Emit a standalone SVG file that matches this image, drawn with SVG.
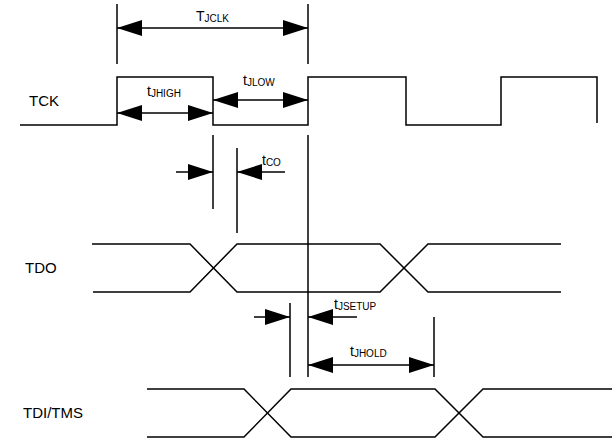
<svg xmlns="http://www.w3.org/2000/svg" width="612" height="440" viewBox="0 0 612 440">
<style>
.w{fill:none;stroke:#000;stroke-width:1.5;stroke-linejoin:miter}
.l{fill:none;stroke:#000;stroke-width:1.5}
.a{fill:none;stroke:#000;stroke-width:1.5;marker-end:url(#ah)}
.d{fill:none;stroke:#000;stroke-width:1.5;marker-start:url(#ah);marker-end:url(#ah)}
.sig{font-family:"Liberation Sans",Arial,sans-serif;font-size:15px;fill:#000}
.lab{font-family:"Liberation Sans",Arial,sans-serif;font-size:14px;fill:#000}
.sub{font-size:10px}
</style>
<defs>
<marker id="ah" viewBox="0 0 25 16" refX="25" refY="8" markerWidth="25" markerHeight="16" markerUnits="userSpaceOnUse" orient="auto-start-reverse">
<path d="M0,0 L25,8 L0,16 Z" fill="#000"/>
</marker>
</defs>
<rect width="612" height="440" fill="#fff"/>
<g id="TCK">
<text class="sig" x="29" y="106">TCK</text>
<path class="w" d="M20,125 H117 V77 H213 V125 H308 V77 H406 V125 H501 V77 H597 V123"/>
</g>
<g id="TDO">
<text class="sig" x="25" y="273">TDO</text>
<path class="w" d="M92,244 H190 L237,292 H380 L428,244 H561"/>
<path class="w" d="M93,292 H190 L237,244 H380 L428,292 H561"/>
</g>
<g id="TDI_TMS">
<text class="sig" x="23" y="418">TDI/TMS</text>
<path class="w" d="M147,389 H244 L291,437 H435 L483,389 H612"/>
<path class="w" d="M147,437 H244 L291,389 H435 L483,437 H612"/>
</g>
<g id="connectors">
<line class="l" x1="117" y1="4" x2="117" y2="64"/>
<line class="l" x1="308" y1="4" x2="308" y2="64"/>
<line class="d" x1="117" y1="28" x2="308" y2="28"/>
<line class="d" x1="117" y1="113" x2="213" y2="113"/>
<line class="d" x1="213" y1="100" x2="308" y2="100"/>
<line class="l" x1="213" y1="135" x2="213" y2="209"/>
<line class="l" x1="237" y1="148" x2="237" y2="233"/>
<line class="l" x1="308" y1="135" x2="308" y2="377"/>
<line class="a" x1="176" y1="172" x2="213" y2="172"/>
<line class="a" x1="285" y1="172" x2="237" y2="172"/>
<line class="l" x1="290" y1="303" x2="290" y2="377"/>
<line class="a" x1="254" y1="317" x2="290" y2="317"/>
<line class="a" x1="357" y1="317" x2="308" y2="317"/>
<line class="l" x1="434" y1="317" x2="434" y2="377"/>
<line class="d" x1="308" y1="365" x2="434" y2="365"/>
</g>
<g id="labels">
<text class="lab" x="196" y="21">T<tspan class="sub" dy="1">JCLK</tspan></text>
<text class="lab" x="147" y="96">t<tspan class="sub" dy="1">JHIGH</tspan></text>
<text class="lab" x="243" y="85">t<tspan class="sub" dy="1">JLOW</tspan></text>
<text class="lab" x="262" y="165">t<tspan class="sub" dy="1">CO</tspan></text>
<text class="lab" x="334" y="309">t<tspan class="sub" dy="1">JSETUP</tspan></text>
<text class="lab" x="350" y="356">t<tspan class="sub" dy="1">JHOLD</tspan></text>
</g>
</svg>
